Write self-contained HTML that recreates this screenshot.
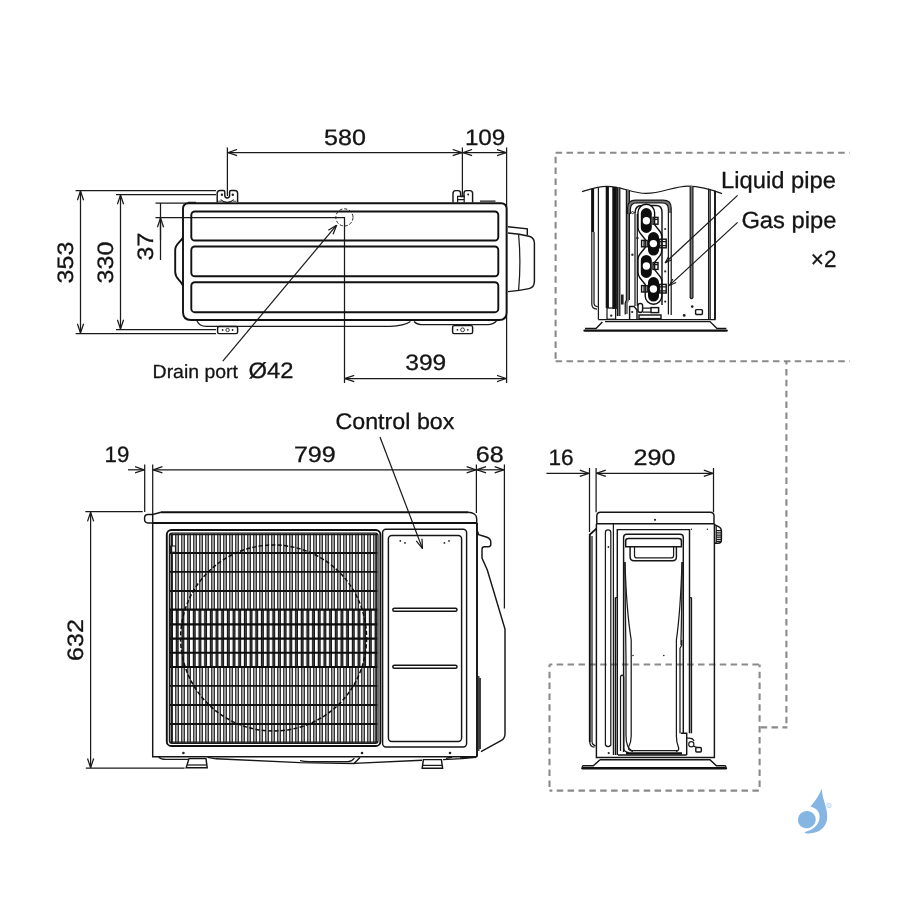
<!DOCTYPE html>
<html><head><meta charset="utf-8"><title>Outdoor unit dimensions</title>
<style>
html,body{margin:0;padding:0;background:#fff;}
svg{display:block;}
text{font-family:"Liberation Sans",sans-serif;fill:#141414;text-rendering:geometricPrecision;stroke:#141414;stroke-width:0.3;}
.l{fill:none;stroke:#1a1a1a;stroke-width:1.25;}
.m{fill:none;stroke:#151515;stroke-width:1.45;}
.k{fill:none;stroke:#111;stroke-width:1.9;}
.d{fill:none;stroke:#1a1a1a;stroke-width:1.25;marker-start:url(#a);marker-end:url(#a);}
.e{fill:none;stroke:#1a1a1a;stroke-width:1.25;marker-end:url(#a);}
.g{fill:none;stroke:#8a8a8a;stroke-width:2.1;stroke-dasharray:6.5 4.37;}
</style></head><body>
<svg width="900" height="900" viewBox="0 0 900 900">
<defs>
<marker id="a" viewBox="0 0 10 8" refX="9.6" refY="4" markerWidth="10" markerHeight="8" markerUnits="userSpaceOnUse" orient="auto-start-reverse"><path d="M0.4,0.9 L9.6,4 L0.4,7.1" fill="none" stroke="#1a1a1a" stroke-width="1.25"/></marker>
<marker id="b" viewBox="0 0 8 6" refX="7.6" refY="3" markerWidth="8" markerHeight="6" markerUnits="userSpaceOnUse" orient="auto-start-reverse"><path d="M0.6,0.6 L7.6,3 L0.6,5.4" fill="none" stroke="#1a1a1a" stroke-width="1.1"/></marker>
</defs>
<rect width="900" height="900" fill="#fff"/>
<g id="all" opacity="0.999">

<!-- ================= TOP VIEW ================= -->
<g id="topview">
<!-- dimension / extension lines -->
<path class="l" d="M75.6,190.5H216 M75.6,333.5H216 M116,194.5H216 M116,329.5H216 M155.5,203H196 M155.5,217.5H344.5V383 M160.5,203V260 M227.4,147.6V196 M462.4,147.6V196 M506.6,147.6V383"/>
<path class="d" d="M80.5,191V333"/>
<path class="d" d="M120.5,195V329"/>
<path class="e" d="M160.5,240V218"/>
<path class="d" d="M227.9,152.6H461.9"/>
<path class="d" d="M462.9,152.6H506.1"/>
<path class="d" d="M345,378.5H506.1"/>
<path class="e" d="M222.8,361.2L336.6,225.2"/>
<!-- body -->
<path class="k" d="M188.6,203.2H501Q506.6,203.2 506.6,208.8V312.4Q506.6,320 499,320H191Q183,320 183,312V208.8Q183,203.2 188.6,203.2Z"/>
<path class="k" d="M183,237.5C180,243 175.2,244 175.2,250V272C175.2,279 180,279 183,285.5"/>
<rect class="k" x="191.3" y="211.5" width="307" height="29" rx="3.5"/>
<rect class="k" x="191.3" y="246.5" width="307" height="29.8" rx="3.5"/>
<rect class="k" x="191.3" y="282.2" width="307" height="30" rx="3.5"/>
<path class="l" d="M188,202.3H196 M480,201.2H495.5"/>
<!-- drain circle -->
<circle cx="344.4" cy="217.4" r="8.6" fill="none" stroke="#222" stroke-width="1" stroke-dasharray="3.2 1.8"/>
<!-- brackets -->
<path class="m" d="M217.2,202.6V193.2Q217.2,190.4 220,190.4H223.4Q224.8,190.4 224.8,192V195.6Q224.8,198 227.2,198Q229.6,198 229.6,195.6V192Q229.6,190.4 231,190.4H234.8Q237.6,190.4 237.6,193.2V202.6"/>
<path class="l" d="M220.6,199.6Q227.2,205.4 233.8,199.6"/>
<rect x="218.2" y="200.6" width="3.6" height="2" fill="#777"/><rect x="232.8" y="200.6" width="3.6" height="2" fill="#777"/>
<circle cx="221.9" cy="194.7" r="1.2" fill="#222"/><circle cx="232.8" cy="194.7" r="1.2" fill="#222"/>
<path class="m" d="M453,202.6V193.4Q453,190.6 455.8,190.6H458Q460.6,190.6 460.6,193V196.4H464V193Q464,190.6 466.4,190.6H470Q472.6,190.6 472.6,193.4V202.6"/>
<path class="l" d="M457.6,202.6V196.4H464.2V202.6 M457.6,199.6H464.2"/>
<circle cx="468.2" cy="194.6" r="1" fill="#222"/>
<!-- bottom parts -->
<path class="l" d="M197,321Q199.5,326.3 206,326.3H390Q404,326 410.5,321.5"/>
<path class="l" d="M414,321.5Q417,324.6 421,324.6H488Q493,324.6 496.5,321"/>
<rect class="m" x="217.6" y="326.4" width="20" height="7.2" rx="1.6"/>
<circle cx="227.6" cy="330" r="1.7" fill="none" stroke="#222" stroke-width="0.9"/><circle cx="222.6" cy="330" r="0.9" fill="#222"/><circle cx="232.6" cy="330" r="0.9" fill="#222"/>
<rect class="m" x="452.6" y="325.6" width="20" height="8" rx="1.6"/>
<circle cx="462.6" cy="329.8" r="1.9" fill="none" stroke="#222" stroke-width="0.9"/><circle cx="457.4" cy="329.8" r="0.9" fill="#222"/><circle cx="467.8" cy="329.8" r="0.9" fill="#222"/>
<!-- right protrusion -->
<path class="m" d="M508,226.8L527.3,228.8V235"/>
<path class="m" d="M508,233Q520,234 529,236.2Q534.4,237.6 534.4,243V281Q534.4,287.4 529,288.6Q520,290.6 508,291.6"/>
<path class="l" d="M518.6,234.2Q521.2,262 518.6,290.4"/>
<!-- texts -->
<text transform="translate(344.9,145) scale(1.125,1)" font-size="22.3" text-anchor="middle">580</text>
<text transform="translate(485.1,145) scale(1.087,1)" font-size="22.3" text-anchor="middle">109</text>
<text transform="translate(425.7,370) scale(1.10,1)" font-size="22.3" text-anchor="middle">399</text>
<text transform="translate(72.8,262.5) rotate(-90) scale(1.125,1)" font-size="22.3" text-anchor="middle">353</text>
<text transform="translate(112.8,262.5) rotate(-90) scale(1.125,1)" font-size="22.3" text-anchor="middle">330</text>
<text transform="translate(152.6,246.5) rotate(-90) scale(1.125,1)" font-size="22.3" text-anchor="middle">37</text>
<text transform="translate(152.6,378) scale(1.023,1)" font-size="19">Drain port</text>
<text transform="translate(248.6,378) scale(1.065,1)" font-size="22.3">Ø42</text>
</g>

<!-- ================= DASHED FRAMES ================= -->
<g id="frames">
<path class="g" d="M555.6,152.7H849.6"/>
<path class="g" d="M555.6,361.2H849.6"/>
<path class="g" d="M555.6,152.7V361.2" stroke-dashoffset="6.9"/>
<path class="g" d="M786.4,361.2V727.4" stroke-dashoffset="3.15"/>
<path class="g" d="M787.4,727.4H759.6" stroke-dashoffset="1.5"/>
<path class="g" d="M549.5,664.5H759.6 M549.5,790.6H759.6 M549.5,664.5V790.6 M759.6,664.5V790.6" stroke-dashoffset="3.65"/>
</g>

<!-- ================= PIPE DETAIL ================= -->
<g id="detail">
<!-- wavy cut line -->
<path class="l" d="M582,191.6C592,188.4 600,186.4 607,186.4C622,186.4 632,193.4 646,193.4C662,193.4 674,186 688,186C702,186 712,189.6 722,193.6"/>
<!-- left fins -->
<path d="M592.6,188.6V232" stroke="#111" stroke-width="3" fill="none"/>
<path class="l" d="M591.8,232V304Q591.8,309 597,309 M594,232V303Q594,306.4 597.6,306.6 M598.4,187.4V319.5"/>
<path d="M607.3,186.4V308" stroke="#111" stroke-width="3.2" fill="none"/>
<path d="M614.6,186.8V309" stroke="#111" stroke-width="4.6" fill="none"/>
<path d="M618.6,187.6V316" stroke="#777" stroke-width="2.2" fill="none"/>
<path class="l" d="M617.4,187.6V316 M619.8,187.6V316"/>
<path d="M627.8,189.6V300L626.6,303V314" stroke="#777" stroke-width="2.6" fill="none"/>
<path class="l" d="M626.4,189.4V300L625.2,303V314.5 M629.4,190V300"/>
<rect x="621" y="294.5" width="2.6" height="10" fill="#222"/>
<rect class="l" x="607" y="308" width="8.6" height="11.2"/>
<circle cx="611.2" cy="315.6" r="1.2" fill="#222"/>
<!-- valve panel -->
<path d="M629,213V208.5Q629,201.4 636,201.4H662.6Q669.8,201.4 669.8,208.5V213" fill="none" stroke="#777" stroke-width="2.6"/>
<path class="l" d="M627.6,214V208Q627.6,200.2 635.6,200.2H663Q671.2,200.2 671.2,208V315 M630.4,214V209Q630.4,202.8 636.6,202.8H662Q668.4,202.8 668.4,209V314.6"/>
<path class="m" d="M635,213Q635,205.4 642,205.4H656Q662,205.4 662,212V305"/>
<path class="l" d="M635,212V306 M637.3,214V306"/>
<circle cx="632.6" cy="212.6" r="1.1" fill="none" stroke="#222" stroke-width="0.9"/>
<circle cx="632.4" cy="254.8" r="1.2" fill="#333"/><circle cx="637.4" cy="238" r="1.2" fill="#222"/>
<circle cx="665.2" cy="229" r="1.1" fill="#333"/><circle cx="665.2" cy="271.4" r="1.1" fill="#333"/><circle cx="665.2" cy="301.6" r="1.1" fill="#333"/>
<!-- serpentine cover -->
<path d="M646.3,212.6V227.5L653.5,236.6V250.4L646.3,259.4V272.6L653.5,281.6V296" fill="none" stroke="#0c0c0c" stroke-width="18" stroke-linecap="round" stroke-linejoin="round"/>
<path d="M646.3,212.6V227.5L653.5,236.6V250.4L646.3,259.4V272.6L653.5,281.6V296" fill="none" stroke="#fff" stroke-width="15.2" stroke-linecap="round" stroke-linejoin="round"/>
<path d="M646.3,213.6V227.4 M653.5,237.6V250 M646.3,260.4V272.4 M653.5,282.6V296" fill="none" stroke="#0c0c0c" stroke-width="11" stroke-linecap="round"/>
<circle cx="646.4" cy="220.8" r="3.7" fill="#fff"/><circle cx="653.4" cy="243.6" r="3.7" fill="#fff"/><circle cx="646.4" cy="266" r="3.7" fill="#fff"/><circle cx="653.4" cy="289" r="3.7" fill="#fff"/>
<!-- nuts -->
<rect class="m" x="653" y="217.4" width="5" height="6.8" fill="#fff"/><path class="l" d="M653,219.4H658"/>
<rect class="m" x="641.6" y="240.4" width="5.6" height="6.4" fill="#fff"/><path class="l" d="M644,240.4V246.8"/>
<rect class="m" x="659.6" y="239.2" width="6.6" height="8.6" fill="#fff"/><path class="l" d="M659.6,241.6H666.2 M659.6,245.6H666.2"/>
<rect class="m" x="653" y="262.6" width="5" height="6.8" fill="#fff"/><path class="l" d="M653,264.6H658"/>
<rect class="m" x="641.6" y="285.6" width="5.6" height="6.4" fill="#fff"/><path class="l" d="M644,285.6V292"/>
<rect class="m" x="659.6" y="284.4" width="6.6" height="8.6" fill="#fff"/><path class="l" d="M659.6,286.8H666.2 M659.6,290.8H666.2"/>
<!-- bottom fittings -->
<path class="m" d="M629.6,320V306.4H634L637,310V320"/>
<circle cx="632.2" cy="312" r="1.1" fill="#222"/>
<rect class="m" x="638" y="303.4" width="4.6" height="9" rx="2.2"/>
<rect class="m" x="639" y="315" width="22" height="3.6"/>
<rect class="m" x="651" y="307.6" width="7.6" height="5" />
<path class="l" d="M643,308H651 M643,312H651"/>
<!-- right side -->
<path d="M691.5,186.6V297.4" stroke="#777" stroke-width="2.4" fill="none" stroke-linecap="round"/>
<path class="l" d="M690.2,186.4V297.6Q691.5,299.6 692.9,297.6V186.4"/>
<path class="l" d="M708.6,188.6V319 M710.2,189.2V319"/>
<path class="k" d="M715,190.8V319.6"/>
<circle cx="692.2" cy="306.6" r="1.3" fill="#222"/><circle cx="684.2" cy="315.4" r="1.4" fill="#222"/>
<rect class="m" x="695.6" y="309.6" width="6.8" height="4.8" rx="0.8"/>
<!-- base -->
<path class="m" d="M598.4,319.6H715.6"/>
<path class="m" d="M605,321.6H710L717,328.4H726.4 M602.4,322L596,328.4H585"/>
<path d="M584.6,330.6H726.6" stroke="#111" stroke-width="2.4" fill="none" stroke-linecap="round"/>
<!-- leaders -->
<path class="l" style="marker-end:url(#b)" d="M737.6,195.4L665.2,262.8"/>
<path class="l" style="marker-end:url(#b)" d="M737.6,222.4L669.4,285.4"/>
<text transform="translate(721,188) scale(1.015,1)" font-size="23.4">Liquid pipe</text>
<text transform="translate(741.4,228.4) scale(1.015,1)" font-size="23.4">Gas pipe</text>
<text transform="translate(836.4,267.1) scale(0.96,1)" font-size="23.4" text-anchor="end">×2</text>
</g>

<!-- ================= FRONT VIEW ================= -->
<g id="front">
<defs>
<pattern id="pd" x="173" y="0" width="6" height="10" patternUnits="userSpaceOnUse">
<rect x="0" y="0" width="6" height="10" fill="#2a2a2a"/><rect x="0" y="0" width="2.1" height="10" fill="#fff"/>
<rect x="3" y="0" width="2.1" height="10" fill="#979797"/>
</pattern>
<pattern id="pm" x="173" y="0" width="5.68" height="10" patternUnits="userSpaceOnUse">
<rect x="0" y="0" width="5.68" height="10" fill="#161616"/><rect x="0" y="0" width="2.7" height="10" fill="#fff"/>
<rect x="4" y="0" width="0.5" height="10" fill="#666"/>
</pattern>
<clipPath id="gc"><rect x="170" y="533.6" width="207.4" height="209.4" rx="2"/></clipPath>
</defs>
<!-- dimension lines -->
<path class="l" d="M144.7,464.6V512 M152.7,464.6V514 M476.4,464.6V513 M504.4,464.6V608.6 M85.3,511.6H142.7 M85.8,768.2H184.6"/>
<path class="e" d="M128,469.8H144.2"/>
<path class="d" d="M153.2,469.8H475.9"/>
<path class="d" d="M476.9,469.8H503.9"/>
<path class="d" d="M90.6,512.2V767.7"/>
<path class="e" d="M380,437L422.4,548.4"/>
<!-- cover -->
<path class="k" d="M161,512.2H468"/>
<path class="m" d="M468,512.2Q472,512.4 474.4,514Q476.7,515.6 476.7,519V523"/>
<path class="k" d="M152.7,523H476.4 M477,523V756.8"/>
<path class="m" d="M161,512.2L152.7,514.4H148Q144.6,514.4 144.6,517.8V519.6Q144.6,523 148,523H153"/>
<path class="m" d="M152.7,514.4V756.8H477"/>
<!-- grill -->
<rect x="170" y="533.6" width="207.4" height="209.4" fill="#fff"/>
<g clip-path="url(#gc)">
<rect x="170" y="533" width="208" height="77" fill="url(#pd)"/>
<rect x="170" y="609.6" width="208" height="57.6" fill="url(#pm)"/>
<rect x="170" y="667" width="208" height="77" fill="url(#pd)"/>
<path d="M170,553H378 M170,571.8H378 M170,591H378 M170,685.8H378 M170,705H378 M170,724H378" stroke="#111" stroke-width="1.8" fill="none"/>
<path d="M170,609.6H378 M170,624.4H378 M170,638.6H378 M170,652.8H378 M170,667H378" stroke="#0c0c0c" stroke-width="2.1" fill="none"/>
<circle cx="273.6" cy="638" r="93" fill="none" stroke="#0c0c0c" stroke-width="1.5" stroke-dasharray="4.2 2.2"/>
<rect x="170.6" y="546" width="4.8" height="6.2" fill="#fff" stroke="#111" stroke-width="1"/>
</g>
<rect class="k" x="166.8" y="530" width="213.6" height="216" rx="4.6"/>
<rect class="l" x="169.4" y="533" width="208.6" height="210.4" rx="2.6" stroke-width="1.3"/>
<path class="l" d="M171.6,534V743 M376,534V743 M170,534.6H378 M170,742H378" />
<!-- control panel -->
<rect class="m" x="382.6" y="529.2" width="84" height="217.8" rx="3.4"/>
<rect class="m" x="388.4" y="535.4" width="73.2" height="206" rx="3.4"/>
<rect class="m" x="392.8" y="608.2" width="64.2" height="3" rx="1.5" style="stroke-width:1.5"/>
<rect class="m" x="392.8" y="665.2" width="64.2" height="3" rx="1.5" style="stroke-width:1.5"/>
<circle cx="400.3" cy="540.9" r="0.9" fill="#222"/><circle cx="405" cy="542.9" r="0.9" fill="#222"/>
<circle cx="444.4" cy="542.9" r="0.9" fill="#222"/><circle cx="449" cy="540.9" r="0.9" fill="#222"/>
<circle cx="183.4" cy="753" r="1.3" fill="#222"/><circle cx="362" cy="753" r="1.3" fill="#222"/><circle cx="450" cy="753" r="1.3" fill="#222"/>
<!-- right side hook & service cover -->
<path class="m" d="M477,530L478.7,534.6L487,537.2Q490.8,538.6 490.8,542V544.6Q490.8,546.7 488.4,546.7H484.4Q482,546.7 482,549.4V558L487.3,570L505,629V734Q505,738.6 501,740.6L481,751.6"/>
<path class="l" d="M478.8,676V751 M480.2,678V749"/>
<!-- feet / base pan -->
<path class="m" d="M189,758.6H206L207.2,767.8H186.2Z" fill="#fff"/>
<path class="l" d="M187.4,765H206.6"/>
<path class="m" d="M423.4,759.6H441.4L442.6,768.2H422.2Z" fill="#fff"/>
<path class="l" d="M423,765.4H442"/>
<path class="l" d="M158.6,757Q161,759.4 166,759.4H188 M207.6,757.4L216,758.8"/>
<path class="m" d="M216,758.8L300,762.6L354,763.4L360,757.6 M354,763.4L422,760.2 M443,759.6L462,758.6L476,757.2"/>
<path class="l" d="M300,760.6Q304,761.6 310,761.6H348Q352,761.2 354.4,758"/>
<path class="m" d="M446,758.4L452,757.2 M460,758L470,757"/>
<!-- texts -->
<text transform="translate(116.9,462.1) scale(0.995,1)" font-size="22.3" text-anchor="middle">19</text>
<text transform="translate(314.8,462.1) scale(1.125,1)" font-size="22.3" text-anchor="middle">799</text>
<text transform="translate(489.8,462.1) scale(1.125,1)" font-size="22.3" text-anchor="middle">68</text>
<text transform="translate(83,640) rotate(-90) scale(1.125,1)" font-size="22.3" text-anchor="middle">632</text>
<text transform="translate(335.4,428.9) scale(1.03,1)" font-size="22.6">Control box</text>
</g>

<!-- ================= SIDE VIEW ================= -->
<g id="side">
<path class="l" d="M589.5,468V532 M596.1,468V512.2 M713.5,468V512.2"/>
<path class="e" d="M546.4,473.3H589"/>
<path class="d" d="M596.6,473.3H713"/>
<!-- cover -->
<path class="m" d="M596.8,523.7V516Q596.8,512.2 600.6,512.2H710Q714,512.2 714,516V523.7Z"/>
<circle cx="655" cy="519.8" r="1.1" fill="#222"/>
<!-- body -->
<path class="m" d="M596.4,523.7V757.4H714.4V523.7"/>
<path class="k" d="M596.4,528.6L589.8,534.6V742"/>
<path class="l" d="M592,536V741.6Q592,745 595.6,745.8 M589.8,742Q589.8,746.8 594.6,747.2"/>
<path class="l" d="M613.4,523.7V755"/>
<path class="l" d="M605.4,745V532.6Q605.4,529.9 608.1,529.9Q610.8,529.9 610.8,532.6V745Q608.1,748.4 605.4,745Z"/>
<circle cx="608.4" cy="547" r="0.9" fill="#222"/>
<!-- knob -->
<path class="m" d="M714.4,524.6L718.6,526.6Q721.4,528 721.4,531V540Q721.4,543.2 718,543.2H714.4"/>
<path class="l" d="M716,530.6H721.4 M716,532.8H721.4 M716,535H721.4 M716,537.2H721.4 M716,539.4H721.4 M716,541.4H721.4 M716.2,526V543"/>
<!-- frame -->
<path class="m" d="M617.3,755V529.6H689.5V733.3"/>
<path class="m" d="M623.6,752V537.4Q623.6,534.2 626.8,534.2H680Q683.3,534.2 683.3,537.4V733.3"/>
<path class="m" d="M615.4,597.5V755 M691.4,597.5V733.3"/>
<path class="l" d="M689.5,597.5H691.4 M615.4,597.5H617.3"/>
<!-- handle -->
<path class="m" d="M625.7,546.7V541Q625.7,538.4 628.4,538.4H678.6Q681.4,538.4 681.4,541V546.7Z"/>
<path class="m" d="M630.1,546.7V557Q630.1,560.7 634,560.7H672.6Q676.4,560.7 676.4,557V546.7"/>
<path class="l" d="M634.5,546.7V555.4Q634.5,557.9 637,557.9H671Q673.6,557.9 673.6,555.4V546.7"/>
<!-- tapering inner -->
<path class="l" d="M624.8,562Q625.2,610 626,660V735Q626,748 632,751"/>
<path class="l" d="M625,562Q626.4,610 631.2,640V736Q631.2,742 628.6,747Q627.6,750.6 633,751.4"/>
<path class="l" d="M682.2,562Q681.8,610 681,640V645"/>
<path class="l" d="M682,562Q680.6,610 676.4,640V736Q676.4,742 678.4,747Q679.6,750.6 676,751.4"/>
<path class="l" d="M681.7,640V645L680,648.3V733.3"/>
<path class="l" d="M620.5,751V677.6Q620.5,675 622.1,675Q623.7,675 623.7,677.6V748Q623.7,752 629,752.6"/>
<path class="m" d="M680.8,733.3H686.7V755 M618,755H686.7"/>
<path d="M626,753.4H682" stroke="#111" stroke-width="2.4" fill="none"/>
<path class="l" d="M632,750.6H677"/>
<circle cx="633" cy="655.5" r="0.8" fill="#222"/><circle cx="663.8" cy="655.5" r="0.8" fill="#222"/>
<circle cx="691.5" cy="529.3" r="0.7" fill="#222"/><circle cx="707.4" cy="529.3" r="0.7" fill="#222"/>
<circle cx="608.7" cy="753" r="1.1" fill="#222"/>
<path class="l" d="M686.7,738H689Q693,738 694,741"/>
<circle cx="691.3" cy="744.2" r="2.6" fill="#fff" stroke="#222" stroke-width="1.2"/>
<rect class="m" x="695.8" y="747.5" width="5.5" height="4.5" rx="1" fill="#fff"/>
<path class="l" d="M693.4,746L697,747.6"/>
<!-- base -->
<path class="m" d="M600,759.7H710L716.4,765.8H725.8 M600,759.7L593.3,765.8H582.5"/>
<path d="M582.5,768.3H725.8" stroke="#111" stroke-width="2.4" fill="none" stroke-linecap="round"/>
<path class="l" d="M582.4,765.8V768 M725.8,765.8V768"/>
<text transform="translate(561.1,465.2) scale(1.015,1)" font-size="22.3" text-anchor="middle">16</text>
<text transform="translate(654.4,465.2) scale(1.125,1)" font-size="22.3" text-anchor="middle">290</text>
</g>

<!-- ================= LOGO ================= -->
<g id="logo" fill="#85b5e2">
<path d="M821.8,788.4C822,800 827.6,806 827.2,817.6C826.8,828 818,834.4 806.4,833.4Q804.6,833 804.6,832C812,830.6 819.4,825 819.6,817C819.8,811.6 816,808.2 810.4,806.6C815.4,801 819.6,794.6 821.8,788.4Z"/>
<ellipse cx="806.8" cy="819.6" rx="9" ry="8.6" transform="rotate(-20 806.8 819.6)"/>
<circle cx="829" cy="805.4" r="2.2" fill="none" stroke="#a9cbea" stroke-width="0.8"/>
<text x="827.8" y="806.6" font-size="3.2" style="fill:#a9cbea;stroke:none">R</text>
</g>
</g>
</svg>
</body></html>
